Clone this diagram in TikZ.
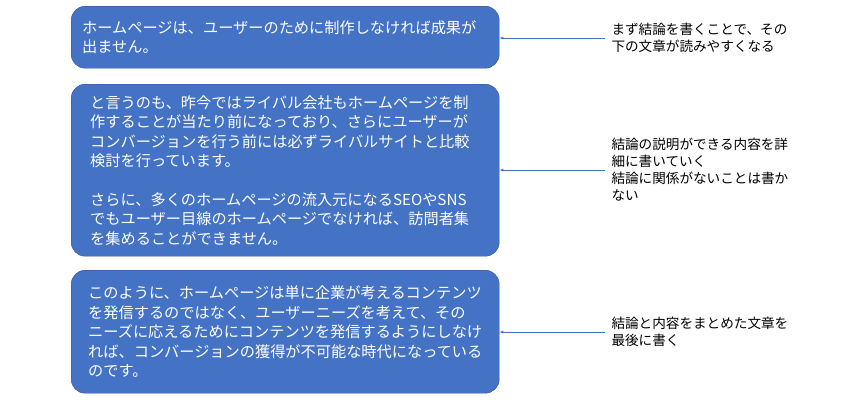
\documentclass[tikz,border=0pt]{standalone}
\usepackage{fontspec}
\setmainfont{Noto Sans CJK JP}
\usetikzlibrary{positioning}
\definecolor{boxblue}{HTML}{4472C4}
\definecolor{boxline}{HTML}{2F528F}
\tikzset{
  textbox/.style={draw=boxline, fill=boxblue, rounded corners=14pt, text=white,
    minimum width=428pt, align=left, anchor=north west, inner sep=0pt,
    font=\fontsize{15.2pt}{19.5pt}\selectfont},
  note/.style={anchor=west, align=left, font=\fontsize{13.6pt}{17pt}\selectfont},
  link/.style={draw=boxblue, -latex, thin}
}
\begin{document}
\begin{tikzpicture}[x=1pt,y=-1pt]
  \useasboundingbox (0,0) rectangle (850,400);
  % boxes
  \node[textbox, minimum height=62pt] (intro) at (71,6)
    {\hspace{8pt}\parbox{414pt}{ホームページは、ユーザーのために制作しなければ成果が\\出ません。}};
  \node[textbox, minimum height=172pt] (body) at (71,84)
    {\hspace{16pt}\parbox{406pt}{と言うのも、昨今ではライバル会社もホームページを制\\作することが当たり前になっており、さらにユーザーが\\コンバージョンを行う前には必ずライバルサイトと比較\\検討を行っています。\\[19pt]さらに、多くのホームページの流入元になるSEOやSNS\\でもユーザー目線のホームページでなければ、訪問者集\\を集めることができません。}};
  \node[textbox, minimum height=123pt] (summary) at (71,270)
    {\hspace{14pt}\parbox{408pt}{このように、ホームページは単に企業が考えるコンテンツ\\を発信するのではなく、ユーザーニーズを考えて、その\\ニーズに応えるためにコンテンツを発信するようにしなけ\\れば、コンバージョンの獲得が不可能な時代になっている\\のです。}};
  % notes
  \node[note] (n1) at (608,38) {まず結論を書くことで、その\\下の文章が読みやすくなる};
  \node[note] (n2) at (608,170) {結論の説明ができる内容を詳\\細に書いていく\\結論に関係がないことは書か\\ない};
  \node[note] (n3) at (608,332) {結論と内容をまとめた文章を\\最後に書く};
  \draw[link] (n1.west) ++(-3,0) coordinate (a1) -- (a1 -| intro.east);
  \draw[link] (n2.west) ++(-3,0) coordinate (a2) -- (a2 -| body.east);
  \draw[link] (n3.west) ++(-3,0) coordinate (a3) -- (a3 -| summary.east);
\end{tikzpicture}
\end{document}
